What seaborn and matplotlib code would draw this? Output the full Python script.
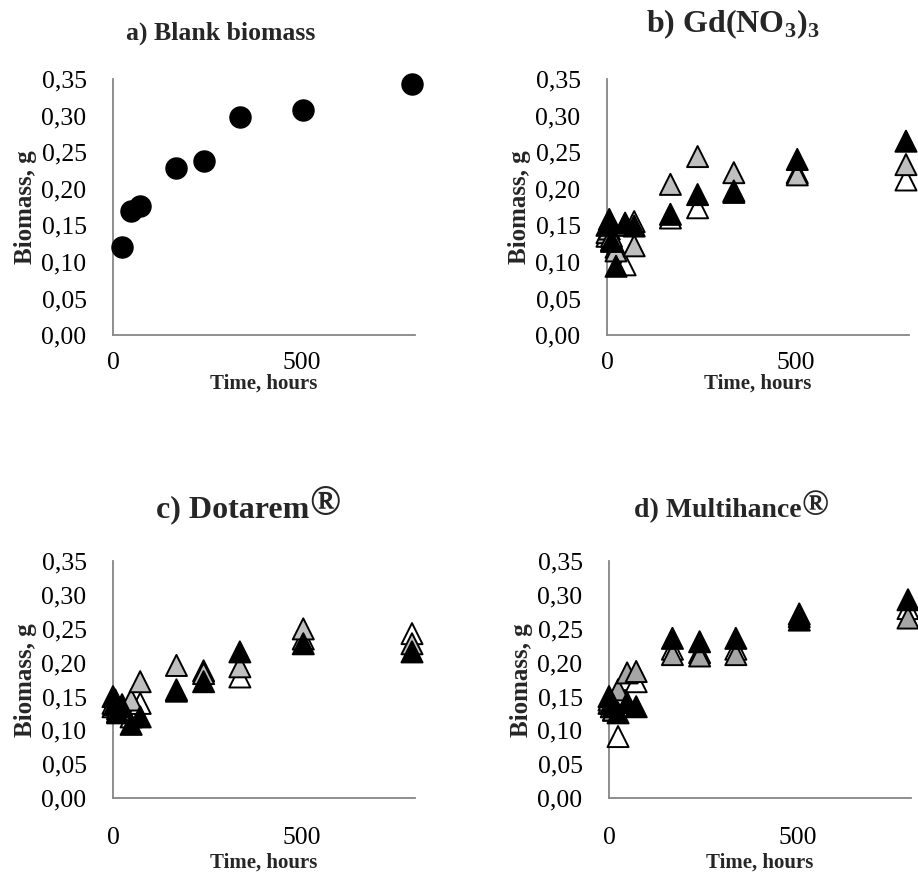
import matplotlib
matplotlib.use("Agg")
import matplotlib.pyplot as plt
import pandas as pd
import seaborn as sns
from matplotlib.ticker import FuncFormatter

# sampling times (hours)
blank_time = [24, 48, 72, 168, 240, 336, 504, 792]
blank_biomass = [0.120, 0.170, 0.177, 0.228, 0.238, 0.298, 0.307, 0.343]

tri_time = [0, 6, 12, 24, 48, 72, 168, 240, 336, 504, 792]

gd_white = [0.135, 0.140, 0.130, 0.120, 0.096, 0.155, 0.160, 0.174, 0.195, 0.222, 0.212]
gd_gray = [0.140, 0.145, 0.135, 0.115, 0.150, 0.122, 0.206, 0.244, 0.222, 0.219, 0.233]
gd_black = [0.150, 0.158, 0.128, 0.094, 0.153, 0.149, 0.165, 0.192, 0.197, 0.240, 0.265]

dot_white = [0.135, 0.145, 0.128, 0.138, 0.120, 0.140, 0.158, 0.188, 0.179, 0.235, 0.243]
dot_gray = [0.140, 0.138, 0.132, 0.130, 0.145, 0.172, 0.196, 0.184, 0.194, 0.250, 0.228]
dot_black = [0.150, 0.140, 0.126, 0.135, 0.109, 0.120, 0.160, 0.172, 0.216, 0.228, 0.216]

mh_white = [0.140, 0.135, 0.130, 0.091, 0.175, 0.172, 0.220, 0.215, 0.220, 0.272, 0.280]
mh_gray = [0.145, 0.140, 0.130, 0.160, 0.185, 0.187, 0.212, 0.210, 0.212, 0.268, 0.266]
mh_black = [0.150, 0.140, 0.135, 0.126, 0.141, 0.135, 0.236, 0.231, 0.236, 0.263, 0.293]

titles = ["a) Blank biomass", r"b) Gd(NO$_\mathbf{3}$)$_\mathbf{3}$", "c) Dotarem", "d) Multihance"]


def tri_frame(white, gray, black):
    parts = []
    for name, vals in [("white", white), ("gray", gray), ("black", black)]:
        parts.append(pd.DataFrame({"Time": tri_time, "Biomass": vals, "Series": name}))
    return pd.concat(parts, ignore_index=True)


def style_axes(ax, xpad, xlabelpad):
    for side in ["top", "right"]:
        ax.spines[side].set_visible(False)
    for side in ["left", "bottom"]:
        ax.spines[side].set_color("#868686")
        ax.spines[side].set_linewidth(1.3)
    ax.set_xlim(0, 800)
    ax.set_ylim(0, 0.35)
    ax.set_xticks([0, 500])
    ax.set_yticks([0, 0.05, 0.10, 0.15, 0.20, 0.25, 0.30, 0.35])
    ax.yaxis.set_major_formatter(FuncFormatter(lambda v, _: f"{v:.2f}".replace(".", ",")))
    ax.tick_params(axis="both", direction="out", length=5, width=1.3, color="#868686",
                   labelsize=18.5, labelcolor="black")
    ax.tick_params(axis="y", pad=14)
    ax.tick_params(axis="x", pad=xpad)
    ax.set_xlabel("Time, hours", fontsize=15, fontweight="bold", labelpad=xlabelpad)
    ax.set_ylabel("Biomass, g", fontsize=18, fontweight="bold", labelpad=3)
    ax.grid(False)


def main():
    sns.set_style("white")
    plt.rcParams["font.family"] = ["Liberation Serif", "DejaVu Serif"]
    plt.rcParams["mathtext.fontset"] = "custom"
    plt.rcParams["mathtext.rm"] = "Liberation Serif"
    plt.rcParams["mathtext.bf"] = "Liberation Serif:bold"

    fig = plt.figure(figsize=(9.18, 8.84), dpi=100)
    ax_a = fig.add_axes([0.1231, 0.6210, 0.329, 0.2896])
    ax_b = fig.add_axes([0.6612, 0.6210, 0.329, 0.2896])
    ax_c = fig.add_axes([0.1231, 0.0971, 0.329, 0.2681])
    ax_d = fig.add_axes([0.6634, 0.0971, 0.329, 0.2681])

    blank_df = pd.DataFrame({"Time": blank_time, "Biomass": blank_biomass})
    sns.scatterplot(data=blank_df, x="Time", y="Biomass", color="black", marker="o",
                    s=230, edgecolor="black", linewidth=1, ax=ax_a, clip_on=False, zorder=3)

    grays = {"b": "#BFBFBF", "c": "#BFBFBF", "d": "#A6A6A6"}
    sets = [(ax_b, gd_white, gd_gray, gd_black, "b"),
            (ax_c, dot_white, dot_gray, dot_black, "c"),
            (ax_d, mh_white, mh_gray, mh_black, "d")]
    for ax, w, g, b, key in sets:
        df = tri_frame(w, g, b)
        pal = {"white": "white", "gray": grays[key], "black": "black"}
        sns.scatterplot(data=df, x="Time", y="Biomass", hue="Series", palette=pal,
                        marker="^", s=230, edgecolor="black", linewidth=1.4,
                        legend=False, ax=ax, clip_on=False, zorder=3)

    style_axes(ax_a, 7, 0)
    style_axes(ax_b, 7, 0)
    style_axes(ax_c, 16, 2)
    style_axes(ax_d, 16, 2)

    # (text, centre x px, baseline y px, size, trailing registered sign)
    title_specs = [(titles[0], 221, 40, 18.5, False), (titles[1], 733, 32, 23, False),
                   (titles[2], 248, 517, 23, True), (titles[3], 731, 517, 20, True)]
    renderer = fig.canvas.get_renderer()
    for text, px, py, size, reg in title_specs:
        t = fig.text(0, 1 - py / 884, text, ha="left", va="baseline",
                     fontsize=size, fontweight="bold")
        w_main = t.get_window_extent(renderer).width
        r = None
        w_reg = 0
        if reg:
            r = fig.text(0, 1 - (py - 2) / 884, "®", ha="left", va="baseline",
                         fontsize=size * 1.3, fontweight="bold")
            w_reg = r.get_window_extent(renderer).width
        x0 = px - (w_main + w_reg) / 2
        t.set_x(x0 / 918)
        if r is not None:
            r.set_x((x0 + w_main) / 918)

    fig.savefig("out.png", dpi=100)


if __name__ == "__main__":
    main()
